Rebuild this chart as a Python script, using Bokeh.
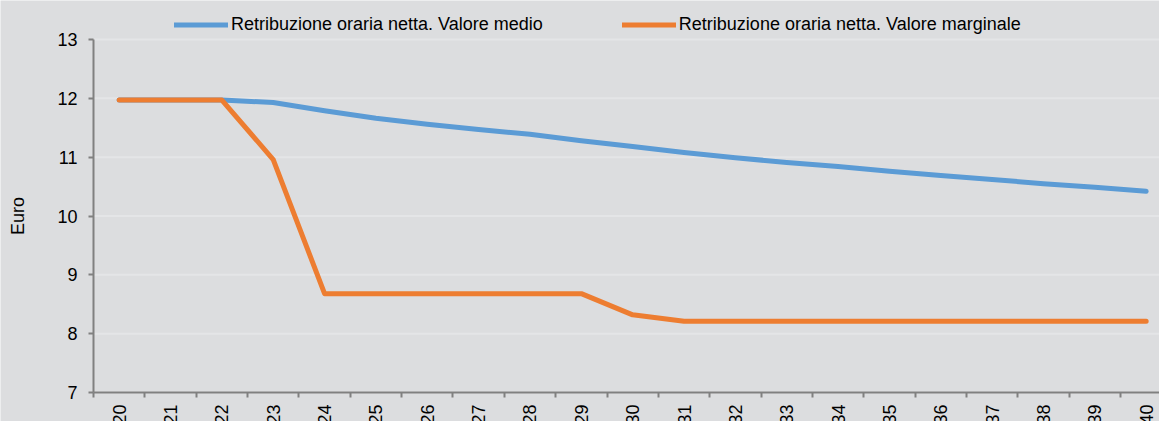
import math
from bokeh.plotting import figure
from bokeh.models import FixedTicker, Legend, LegendItem, Range1d
from bokeh.embed import file_html
from bokeh.resources import INLINE

# Data
eta = [20, 21, 22, 23, 24, 25, 26, 27, 28, 29, 30, 31, 32, 33, 34, 35, 36, 37, 38, 39, 40]
valore_medio = [11.97, 11.97, 11.97, 11.93, 11.79, 11.66, 11.56, 11.47, 11.39, 11.28, 11.18,
                11.08, 10.99, 10.91, 10.84, 10.76, 10.69, 10.62, 10.55, 10.49, 10.42]
valore_marginale = [11.97, 11.97, 11.97, 10.96, 8.68, 8.68, 8.68, 8.68, 8.68, 8.68, 8.32,
                    8.21, 8.21, 8.21, 8.21, 8.21, 8.21, 8.21, 8.21, 8.21, 8.21]
y_ticks = [7, 8, 9, 10, 11, 12, 13]
label_medio = "Retribuzione oraria netta. Valore medio"
label_marginale = "Retribuzione oraria netta. Valore marginale"

BG = "#DCDDDF"
BLUE = "#5B9BD5"
ORANGE = "#ED7D31"
AXIS = "#808080"
GRID = "#E4E5E7"
FONT = "Liberation Sans"

W, H = 1159, 421
# plot area inside the canvas (pixels)
L, T, B = 93, 39, 392
x0, x1 = eta[0] - 0.5, eta[-1] + 0.5
px_x = 51.35
px_y = (B - T) / (y_ticks[-1] - y_ticks[0])
x_start = x0 - L / px_x
x_end = x0 + (W - L) / px_x
y_start = y_ticks[0] - (H - B) / px_y
y_end = y_ticks[-1] + T / px_y

p = figure(width=W, height=H, output_backend="svg", toolbar_location=None,
           x_range=Range1d(x_start, x_end), y_range=Range1d(y_start, y_end),
           min_border_left=0, min_border_right=0, min_border_top=0, min_border_bottom=0)
p.background_fill_color = BG
p.border_fill_color = BG
p.outline_line_color = None

# grid lines (start at the y axis)
p.xgrid.grid_line_color = None
p.ygrid.visible = False
p.segment(x0=[x0] * len(y_ticks), x1=[x_end] * len(y_ticks), y0=y_ticks, y1=y_ticks,
          line_color=GRID, line_width=2)

r1 = p.line(eta, valore_medio, line_color=BLUE, line_width=5, line_cap="round", line_join="round")
r2 = p.line(eta, valore_marginale, line_color=ORANGE, line_width=5, line_cap="round", line_join="round")

# x axis
xa = p.xaxis[0]
xa.fixed_location = y_ticks[0]
xa.bounds = (x0, x_end)
xa.ticker = FixedTicker(ticks=eta, minor_ticks=[a - 0.5 for a in eta] + [eta[-1] + 0.5])
xa.major_tick_out = 0
xa.major_tick_in = 0
xa.minor_tick_out = 5
xa.minor_tick_in = 0
xa.minor_tick_line_color = AXIS
xa.minor_tick_line_width = 2
xa.major_label_orientation = math.pi / 2
xa.major_label_standoff = 7
xa.major_label_text_font = FONT
xa.major_label_text_font_size = "18px"
xa.major_label_text_color = "#000000"
xa.axis_line_color = AXIS
xa.axis_line_width = 2

ya = p.yaxis[0]
ya.fixed_location = x0
ya.bounds = (y_ticks[0], y_ticks[-1])
ya.ticker = FixedTicker(ticks=y_ticks, minor_ticks=[])
ya.major_tick_out = 5
ya.major_tick_in = 0
ya.major_tick_line_color = AXIS
ya.major_tick_line_width = 2
ya.minor_tick_line_color = None
ya.axis_line_color = AXIS
ya.axis_line_width = 2
ya.major_label_standoff = 11
ya.major_label_text_font = FONT
ya.major_label_text_font_size = "18px"
ya.major_label_text_color = "#000000"
ya.axis_label = "Euro"
ya.axis_label_standoff = 26
ya.axis_label_text_font_style = "normal"
ya.axis_label_text_font = FONT
ya.axis_label_text_font_size = "18px"
ya.axis_label_text_color = "#000000"

legend = Legend(items=[LegendItem(label=label_medio, renderers=[r1]),
                       LegendItem(label=label_marginale, renderers=[r2])],
                orientation="horizontal", location=(174, 386),
                background_fill_alpha=0, border_line_color=None,
                margin=0, padding=5, spacing=79,
                glyph_width=54, glyph_height=21, label_height=21,
                label_standoff=3, label_text_font=FONT, label_text_font_size="18px",
                label_text_color="#000000")
p.add_layout(legend)

open("out.html", "w").write(file_html(p, INLINE))
